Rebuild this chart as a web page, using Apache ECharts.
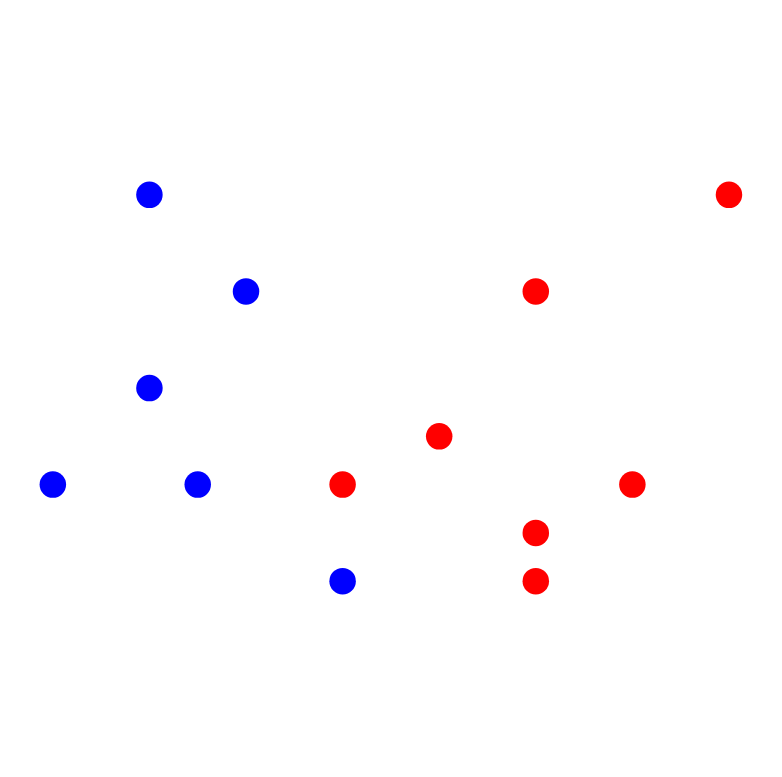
<!DOCTYPE html>
<html>
<head>
<meta charset="utf-8">
<script src="https://cdn.jsdelivr.net/npm/echarts@6/dist/echarts.min.js"></script>
<style>html,body{margin:0;padding:0;background:#fff;}#c{width:782px;height:777px;}</style>
</head>
<body>
<div id="c"></div>
<script>
const blueX = [1, 2, 1, 0, 1.5, 3];
const blueY = [4, 3, 2, 1, 1, 0];
const redX = [7, 5, 4, 3, 6, 5, 5];
const redY = [4, 3, 1.5, 1, 1, 0.5, 0];

const chart = echarts.init(document.getElementById('c'));
chart.setOption({
  animation: false,
  backgroundColor: '#ffffff',
  grid: {left: 0, right: 0, top: 0, bottom: 0},
  xAxis: {type: 'value', min: -0.547, max: 7.549, show: false},
  yAxis: {type: 'value', min: -2.027, max: 6.017, show: false},
  series: [
    {type: 'scatter', symbolSize: 26.5, itemStyle: {color: '#0000ff', opacity: 1},
     data: blueX.map((x, i) => [x, blueY[i]])},
    {type: 'scatter', symbolSize: 26.5, itemStyle: {color: '#ff0000', opacity: 1},
     data: redX.map((x, i) => [x, redY[i]])}
  ]
});
</script>
</body>
</html>
